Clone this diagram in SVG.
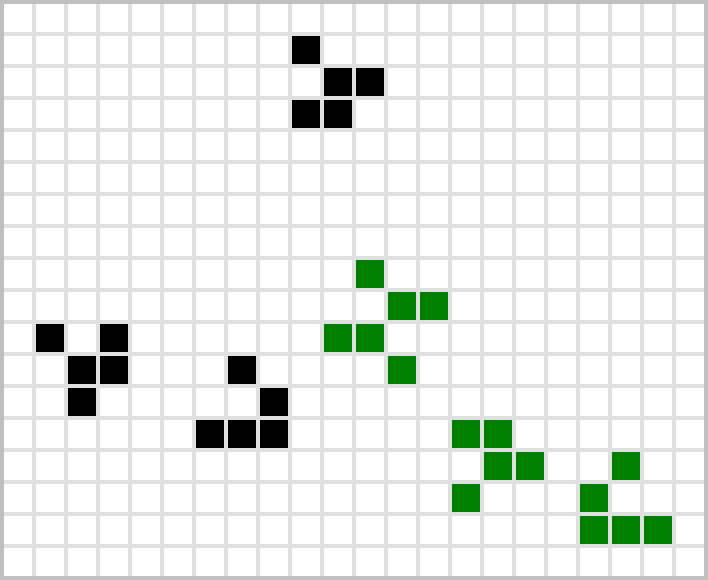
<svg xmlns="http://www.w3.org/2000/svg" width="708" height="580" viewBox="0 0 708 580">
<style>
.grid{stroke:#e0e0e0;stroke-width:4;fill:none}
.border{stroke:#c0c0c0;stroke-width:4;fill:none}
.b rect{fill:#000000}
.g rect{fill:#008000}
</style>
<defs>
<rect id="c" width="28" height="28"/>
</defs>
<rect x="0" y="0" width="708" height="580" fill="#ffffff"/>
<path class="grid" d="M34 0V580M66 0V580M98 0V580M130 0V580M162 0V580M194 0V580M226 0V580M258 0V580M290 0V580M322 0V580M354 0V580M386 0V580M418 0V580M450 0V580M482 0V580M514 0V580M546 0V580M578 0V580M610 0V580M642 0V580M674 0V580M0 34H708M0 66H708M0 98H708M0 130H708M0 162H708M0 194H708M0 226H708M0 258H708M0 290H708M0 322H708M0 354H708M0 386H708M0 418H708M0 450H708M0 482H708M0 514H708M0 546H708"/>
<rect class="border" x="2" y="2" width="704" height="576"/>
<g id="glider-top" class="b">
<rect x="292" y="36" width="28" height="28"/>
<rect x="324" y="68" width="28" height="28"/>
<rect x="356" y="68" width="28" height="28"/>
<rect x="292" y="100" width="28" height="28"/>
<rect x="324" y="100" width="28" height="28"/>
</g>
<g id="glider-left" class="b">
<rect x="36" y="324" width="28" height="28"/>
<rect x="100" y="324" width="28" height="28"/>
<rect x="68" y="356" width="28" height="28"/>
<rect x="100" y="356" width="28" height="28"/>
<rect x="68" y="388" width="28" height="28"/>
</g>
<g id="glider-middle" class="b">
<rect x="228" y="356" width="28" height="28"/>
<rect x="260" y="388" width="28" height="28"/>
<rect x="196" y="420" width="28" height="28"/>
<rect x="228" y="420" width="28" height="28"/>
<rect x="260" y="420" width="28" height="28"/>
</g>
<g id="glider-green-center" class="g">
<rect x="356" y="260" width="28" height="28"/>
<rect x="388" y="292" width="28" height="28"/>
<rect x="420" y="292" width="28" height="28"/>
<rect x="324" y="324" width="28" height="28"/>
<rect x="356" y="324" width="28" height="28"/>
<rect x="388" y="356" width="28" height="28"/>
</g>
<g id="glider-green-lower" class="g">
<rect x="452" y="420" width="28" height="28"/>
<rect x="484" y="420" width="28" height="28"/>
<rect x="484" y="452" width="28" height="28"/>
<rect x="516" y="452" width="28" height="28"/>
<rect x="452" y="484" width="28" height="28"/>
</g>
<g id="glider-green-right" class="g">
<rect x="612" y="452" width="28" height="28"/>
<rect x="580" y="484" width="28" height="28"/>
<rect x="580" y="516" width="28" height="28"/>
<rect x="612" y="516" width="28" height="28"/>
<rect x="644" y="516" width="28" height="28"/>
</g>
</svg>
